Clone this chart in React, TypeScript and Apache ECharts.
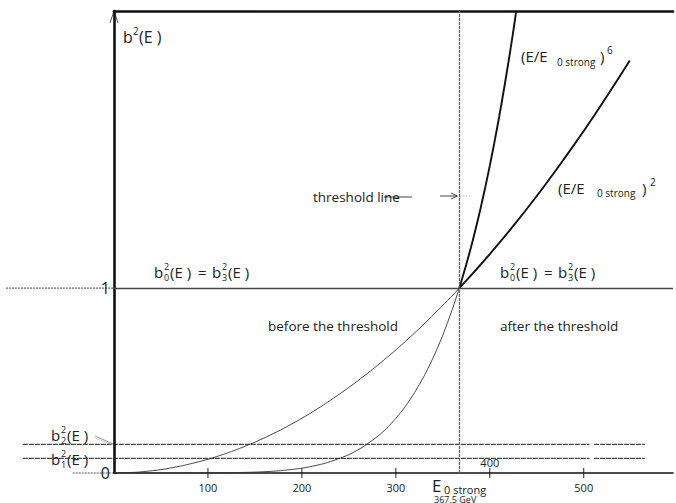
import React, { useEffect, useRef } from 'react';
import * as echarts from 'echarts';

// ---- data ----
const E0_STRONG = 367.5;
const X_MAX = 595;
const Y_MAX = 2.5;
const tickValues = [100, 200, 300, 400, 500];
const bottomLabelValues = [100, 200, 300, 500];
const raisedLabelValue = 400;
const yLabelValues = [0, 1];

const quadBeforeE = [0, 25, 50, 75, 100, 125, 150, 175, 200, 225, 250, 275, 300, 320, 340, 355, 367.5];
const quadBeforeV = [0, 0.0046, 0.018, 0.042, 0.074, 0.116, 0.167, 0.227, 0.296, 0.375, 0.463, 0.56, 0.666, 0.758, 0.856, 0.933, 1];
const quadAfterE = [367.5, 380, 400, 425, 450, 475, 500, 525, 549];
const quadAfterV = [1, 1.069, 1.185, 1.337, 1.499, 1.671, 1.851, 2.041, 2.232];
const sextBeforeE = [0, 100, 150, 175, 200, 225, 250, 265, 280, 290, 300, 310, 320, 330, 340, 350, 360, 367.5];
const sextBeforeV = [0, 0.0004, 0.0046, 0.0117, 0.026, 0.053, 0.099, 0.141, 0.196, 0.240, 0.296, 0.359, 0.436, 0.524, 0.627, 0.746, 0.884, 1];
const sextAfterE = [367.5, 375, 380, 385, 390, 395, 400, 405, 410, 415, 420, 424, 428];
const sextAfterV = [1, 1.129, 1.222, 1.322, 1.428, 1.542, 1.663, 1.792, 1.928, 2.074, 2.228, 2.357, 2.495];

const levelUnity = 1;
const levelB2 = 0.155;
const levelB1 = 0.0795;
const levelSegments = [[-97, 506], [511, 565]];
const unityLeftFrom = -115;
const xAxisLeftFrom = -44;

const FONT = '"Open Sans", "Noto Sans", sans-serif';
const INK = '#222';

function txt(x: number, y: number, text: string, size: number, align = 'left') {
  return {
    type: 'text',
    x,
    y,
    silent: true,
    style: {
      text,
      fontSize: size,
      fontFamily: FONT,
      fill: INK,
      align,
      textAlign: align,
      verticalAlign: 'middle',
      textVerticalAlign: 'middle',
    },
  };
}

function line(x1: number, y1: number, x2: number, y2: number, stroke: string, lineWidth: number, lineDash?: number[]) {
  return {
    type: 'line',
    silent: true,
    shape: { x1, y1, x2, y2 },
    style: { stroke, lineWidth, lineDash: lineDash || null },
  };
}

// b with stacked sub/superscript followed by "(E )"
function bLabel(x: number, y: number, sub: string) {
  return [
    txt(x, y, 'b', 15),
    txt(x + 10, y - 6, '2', 9),
    txt(x + 10, y + 5, sub, 9),
    txt(x + 16, y, '(E )', 15),
  ];
}

function toPairs(xs: number[], ys: number[]) {
  return xs.map((x, i) => [x, ys[i]]);
}

export default function App() {
  const ref = useRef<HTMLDivElement>(null);
  useEffect(() => {
    const chart = echarts.init(ref.current!, null, { renderer: 'svg' });
    const curve = (data: number[][], width: number, color: string, extra: any = {}) => ({
      type: 'line',
      data,
      smooth: 0.2,
      symbol: 'none',
      showSymbol: false,
      silent: true,
      lineStyle: { width, color },
      ...extra,
    });
    chart.setOption({
      animation: false,
      grid: { left: 114, top: 11, right: 0, bottom: 30 },
      xAxis: [
        {
          type: 'value',
          min: 0,
          max: X_MAX,
          interval: 100,
          position: 'bottom',
          axisLine: { show: true, lineStyle: { color: '#111', width: 1.6 } },
          axisTick: { show: false },
          splitLine: { show: false },
          axisLabel: {
            formatter: (v: number) => (bottomLabelValues.includes(v) ? String(v) : ''),
            fontSize: 11,
            color: INK,
            fontFamily: FONT,
            margin: 9,
          },
        },
        {
          type: 'value',
          min: 0,
          max: X_MAX,
          position: 'top',
          axisLine: { show: true, lineStyle: { color: '#111', width: 2.6 } },
          axisTick: { show: false },
          axisLabel: { show: false },
          splitLine: { show: false },
        },
      ],
      yAxis: {
        type: 'value',
        min: 0,
        max: Y_MAX,
        interval: 0.5,
        axisLine: { show: true, lineStyle: { color: '#111', width: 2.6 } },
        axisTick: { show: false },
        splitLine: { show: false },
        axisLabel: {
          formatter: (v: number) => (yLabelValues.includes(v) ? String(v) : ''),
          fontSize: 16,
          color: INK,
          fontFamily: FONT,
          margin: 4,
        },
      },
      series: [
        curve(toPairs(quadBeforeE, quadBeforeV), 0.9, '#333', {
          markLine: {
            silent: true,
            symbol: 'none',
            label: { show: false },
            data: [
              { xAxis: E0_STRONG, lineStyle: { color: '#666', width: 1.3, type: [3, 1] } },
              { yAxis: levelUnity, lineStyle: { color: '#444', width: 1.4, type: 'solid' } },
            ],
          },
        }),
        curve(toPairs(sextBeforeE, sextBeforeV), 0.9, '#333'),
        curve(toPairs(quadAfterE, quadAfterV), 1.9, '#111'),
        curve(toPairs(sextAfterE, sextAfterV), 1.9, '#111'),
      ],
    });

    const px = (x: number, y: number) => chart.convertToPixel({ gridIndex: 0 }, [x, y]) as number[];
    const g: any[] = [];
    // reference levels b1, b2
    [levelB2, levelB1].forEach((lv) => {
      levelSegments.forEach(([a, b]) => {
        const p1 = px(a, lv);
        const p2 = px(b, lv);
        g.push(line(p1[0], p1[1], p2[0], p2[1], '#444', 1.3, [5, 1]));
      });
    });
    // y = 1 extension to the left
    {
      const p1 = px(unityLeftFrom, levelUnity);
      const p2 = px(0, levelUnity);
      g.push(line(p1[0], p1[1], p2[0], p2[1], '#666', 1.2, [2, 1]));
    }
    // x-axis extension left of origin
    {
      const p1 = px(xAxisLeftFrom, 0);
      const p2 = px(0, 0);
      g.push(line(p1[0], p1[1], p2[0], p2[1], '#555', 1, [2, 1]));
    }
    // ticks crossing the x axis
    tickValues.forEach((v) => {
      const p = px(v, 0);
      g.push(line(p[0], p[1] - 5, p[0], p[1] + 5, '#222', 1));
    });
    // raised 400 label
    {
      const p = px(raisedLabelValue, 0);
      g.push(txt(p[0], p[1] - 11, String(raisedLabelValue), 11, 'center'));
    }
    // y axis arrow head
    {
      const top = px(0, Y_MAX);
      g.push({
        type: 'polyline',
        silent: true,
        shape: { points: [[top[0] - 4, top[1] + 12], [top[0], top[1]], [top[0] + 4, top[1] + 12]] },
        style: { stroke: '#555', lineWidth: 1, fill: null },
      });
    }
    // threshold-line pointer
    {
      const t = px(E0_STRONG, 0);
      const yy = 196;
      g.push(line(384, yy + 1, 412, yy + 1, '#444', 1));
      g.push(line(440, yy, t[0] - 2, yy, '#444', 1));
      g.push({
        type: 'polyline',
        silent: true,
        shape: { points: [[t[0] - 8, yy - 3], [t[0] - 2, yy], [t[0] - 8, yy + 3]] },
        style: { stroke: '#444', lineWidth: 1, fill: null },
      });
      g.push(line(t[0] + 1, yy, t[0] + 11, yy, '#999', 1, [1, 2]));
    }
    // leader from b2 label to axis
    {
      const p = px(0, levelB2);
      g.push(line(95, 436, p[0], p[1], '#777', 0.8));
      g.push(line(95, 438, p[0], p[1] + 1, '#aaa', 0.6));
    }

    // texts
    g.push(txt(123, 37, 'b', 16));
    g.push(txt(133, 31, '2', 10));
    g.push(txt(139, 37, '(E )', 16));

    [154, 500].forEach((x0) => {
      g.push(...bLabel(x0, 272, '0'));
      g.push(txt(x0 + 44, 272, '=', 15));
      g.push(...bLabel(x0 + 58, 272, '3'));
    });

    g.push(txt(521, 56, '(E/E', 15));
    g.push(txt(557, 62, '0 strong', 10));
    g.push(txt(600, 56, ')', 15));
    g.push(txt(607, 50, '6', 10));

    g.push(txt(558, 188, '(E/E', 15));
    g.push(txt(597, 193, '0 strong', 10));
    g.push(txt(642, 188, ')', 15));
    g.push(txt(650, 182, '2', 10));

    g.push(txt(313, 197, 'threshold line', 13.5));
    g.push(txt(268, 326, 'before the threshold', 13.5));
    g.push(txt(500, 326, 'after the threshold', 13.5));

    g.push(...bLabel(51, 435, '2'));
    g.push(...bLabel(51, 459, '1'));

    g.push(txt(432, 485, 'E', 17));
    g.push(txt(444, 489, '0 strong', 11));
    g.push(txt(434, 499.5, '367.5 GeV', 9));

    chart.setOption({ graphic: g });
    return () => chart.dispose();
  }, []);
  return (
    <div
      ref={ref}
      style={{ position: 'fixed', left: 0, top: 0, width: 676, height: 503, background: '#fff' }}
    />
  );
}
